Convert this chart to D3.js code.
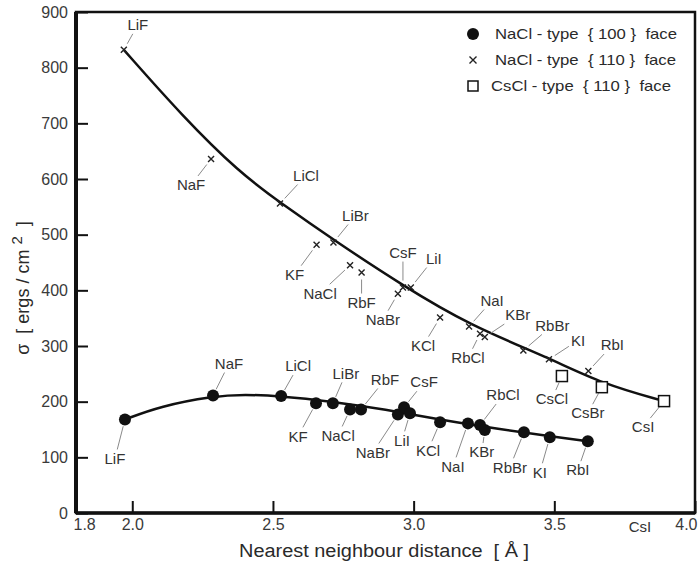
<!DOCTYPE html>
<html>
<head>
<meta charset="utf-8">
<script src="https://cdn.jsdelivr.net/npm/d3@7"></script>
<style>
  body { margin: 0; background: #fff; }
  text { font-family: "Liberation Sans", Arial, sans-serif; }
</style>
</head>
<body>
<div id="chart"></div>
<script>
var width = 700, height = 567;

// NaCl-type {110} face (crosses)
var names110 = ["LiF","NaF","LiCl","KF","LiBr","NaCl","RbF","NaBr","CsF","LiI","KCl","NaI","RbCl","KBr","RbBr","KI","RbI"];
var dist110  = [1.97,2.28,2.525,2.655,2.715,2.774,2.815,2.944,2.962,2.99,3.094,3.197,3.236,3.253,3.39,3.481,3.621];
var sigma110 = [832,636,556,482,486,445,432,394,405,405,351,335,322,316,292,276,255];

// NaCl-type {100} face (filled circles)
var names100 = ["LiF","NaF","LiCl","KF","LiBr","NaCl","RbF","NaBr","CsF","LiI","KCl","NaI","RbCl","KBr","RbBr","KI","RbI"];
var dist100  = [1.974,2.287,2.529,2.653,2.713,2.774,2.813,2.944,2.966,2.987,3.094,3.193,3.236,3.253,3.392,3.484,3.619];
var sigma100 = [168,211,210,197,197,186,186,177,190,179,163,161,158,149,145,136,129];

// CsCl-type {110} face (open squares)
var namesCs = ["CsCl","CsBr","CsI"];
var distCs  = [3.527,3.669,3.89];
var sigmaCs = [246,226,201];

// smooth curves as drawn in the figure
var upperCurveX = [1.97,2.18,2.38,2.53,2.72,2.96,3.20,3.48,3.67,3.89];
var upperCurveY = [832,712,612,556,489,409,337,279,232,201];
var lowerCurveX = [1.974,2.1,2.287,2.4,2.529,2.7,2.9,3.1,3.3,3.5,3.619];
var lowerCurveY = [168,192,210,213,210,201,186,167,151,137,129];

var xTicks = [1.8,2.0,2.5,3.0,3.5,4.0];
var yTicks = [0,100,200,300,400,500,600,700,800,900];

var legendLabels = ["NaCl - type  { 100 }  face","NaCl - type  { 110 }  face","CsCl - type  { 110 }  face"];

// label offsets (px) from each marker
var off110 = [[14,-25],[-20,26],[26,-28],[-22,30],[22,-27],[-30,28],[0,30],[-15,26],[0,-35],[23,-29],[-17,28],[23,-26],[-12,24],[33,-22],[29,-25],[29,-19],[24,-26]];
var off100 = [[-10,39],[16,-32],[17,-30],[-18,33],[13,-30],[-12,26],[24,-30],[-25,38],[20,-25],[-8,27],[-12,28],[-15,43],[23,-30],[-3,22],[-14,35],[-10,35],[-10,29]];
var offCs  = [[-10,23],[-14,26],[-21,26]];

var x = d3.scaleLinear().domain([1.8, 4.0]).range([76, 695]);
var y = d3.scaleLinear().domain([0, 900]).range([513, 12]);

var svg = d3.select("#chart")
            .append("svg")
            .attr("width", width)
            .attr("height", height)
            .attr("viewBox", [0, 0, width, height]);

// axes (ticks pointing inward)
var yAxis = d3.axisLeft(y).tickValues(yTicks).tickSize(-12).tickPadding(8).tickFormat(d3.format("d"));
var xAxis = d3.axisBottom(x).tickValues(xTicks).tickSize(-12).tickPadding(6).tickFormat(d3.format(".1f"));

var gy = svg.append("g").attr("transform", "translate(" + x.range()[0] + ",0)").call(yAxis);
var gx = svg.append("g").attr("transform", "translate(0," + y.range()[0] + ")").call(xAxis);
[gx, gy].forEach(function(g){
    g.select(".domain").remove();
    g.selectAll(".tick line").attr("stroke", "#111").attr("stroke-width", 2);
    g.selectAll(".tick text").attr("fill", "#3a3a3a").attr("font-size", 16);
});
gx.selectAll(".tick text")
  .attr("text-anchor", function(d){ return d === 1.8 ? "start" : (d === 4.0 ? "end" : "middle"); })
  .attr("dx", function(d){ return d === 1.8 ? -3 : (d === 4.0 ? 2 : 0); });

// frame
svg.append("rect")
   .attr("x", x.range()[0]).attr("y", y.range()[1])
   .attr("width", x.range()[1] - x.range()[0])
   .attr("height", y.range()[0] - y.range()[1])
   .attr("fill", "none").attr("stroke", "#111").attr("stroke-width", 2.5);
svg.append("line")
   .attr("x1", x.range()[0]).attr("x2", x.range()[0])
   .attr("y1", y.range()[1]).attr("y2", y.range()[0])
   .attr("stroke", "#111").attr("stroke-width", 4);
svg.append("line")
   .attr("x1", x.range()[0]).attr("x2", x.range()[1])
   .attr("y1", y.range()[0]).attr("y2", y.range()[0])
   .attr("stroke", "#111").attr("stroke-width", 3.5);

// axis titles
svg.append("text")
   .attr("x", 384).attr("y", 557)
   .attr("text-anchor", "middle").attr("font-size", 18).attr("fill", "#2a2a2a")
   .attr("xml:space", "preserve")
   .attr("textLength", 290).attr("lengthAdjust", "spacingAndGlyphs")
   .text("Nearest neighbour distance  [ Å ]");

var yl = svg.append("text")
   .attr("transform", "translate(29,288) rotate(-90)")
   .attr("text-anchor", "middle").attr("font-size", 18).attr("fill", "#2a2a2a")
   .attr("xml:space", "preserve");
yl.append("tspan").text("σ  [ ergs / cm ");
yl.append("tspan").attr("dy", -7).attr("font-size", 15).text("2");
yl.append("tspan").attr("dy", 7).text("  ]");

// curves
var line = d3.line().x(function(d){ return x(d[0]); }).y(function(d){ return y(d[1]); }).curve(d3.curveBasis);
svg.append("path")
   .attr("d", line(d3.zip(upperCurveX, upperCurveY)))
   .attr("fill", "none").attr("stroke", "#111").attr("stroke-width", 2.5);
svg.append("path")
   .attr("d", line(d3.zip(lowerCurveX, lowerCurveY)))
   .attr("fill", "none").attr("stroke", "#111").attr("stroke-width", 2.5);

// labels with leader lines
function addLabels(names, xs, ys, offs) {
    names.forEach(function(n, i){
        var mx = x(xs[i]), my = y(ys[i]);
        var cx = mx + offs[i][0], cy = my + offs[i][1];
        var t = svg.append("text")
           .attr("x", cx).attr("y", cy).attr("dy", "0.35em")
           .attr("text-anchor", "middle").attr("font-size", 15).attr("fill", "#333")
           .text(n);
        var hw = t.node().getComputedTextLength() / 2 + 2, hh = 9;
        var ux = mx - cx, uy = my - cy;
        var s = Math.min(ux === 0 ? Infinity : hw / Math.abs(ux), uy === 0 ? Infinity : hh / Math.abs(uy));
        var ex = cx + ux * s, ey = cy + uy * s;
        var L = Math.hypot(ux, uy);
        var sx = mx - ux / L * 7, sy = my - uy / L * 7;
        if (Math.hypot(ex - mx, ey - my) > 8) {
            svg.append("line")
               .attr("x1", sx).attr("y1", sy).attr("x2", ex).attr("y2", ey)
               .attr("stroke", "#8a8a8a").attr("stroke-width", 1);
        }
    });
}
addLabels(names110, dist110, sigma110, off110);
addLabels(names100, dist100, sigma100, off100);
addLabels(namesCs, distCs, sigmaCs, offCs);

// stray CsI label below the axis, as in the figure
svg.append("text").attr("x", 640).attr("y", 532)
   .attr("text-anchor", "middle").attr("font-size", 15).attr("fill", "#333").text("CsI");

// markers
function cross(g, cx, cy, r) {
    g.append("path")
     .attr("d", "M" + (cx - r) + "," + (cy - r) + "L" + (cx + r) + "," + (cy + r) +
                "M" + (cx - r) + "," + (cy + r) + "L" + (cx + r) + "," + (cy - r))
     .attr("stroke", "#222").attr("stroke-width", 1.4).attr("fill", "none");
}
var gm = svg.append("g");
dist110.forEach(function(d, i){ cross(gm, x(d), y(sigma110[i]), 3); });

gm.selectAll("circle.p100")
  .data(d3.zip(dist100, sigma100))
  .enter().append("circle")
  .attr("cx", function(d){ return x(d[0]); })
  .attr("cy", function(d){ return y(d[1]); })
  .attr("r", 6).attr("fill", "#111");

gm.selectAll("rect.pcs")
  .data(d3.zip(distCs, sigmaCs))
  .enter().append("rect")
  .attr("x", function(d){ return x(d[0]) - 5.5; })
  .attr("y", function(d){ return y(d[1]) - 5.5; })
  .attr("width", 11).attr("height", 11)
  .attr("fill", "#fff").attr("stroke", "#111").attr("stroke-width", 1.5);

// legend
var lg = svg.append("g");
var rowsY = [34, 60, 86], symX = 473, textX = 495, textW = [182, 181, 180];
lg.append("circle").attr("cx", symX).attr("cy", rowsY[0]).attr("r", 6).attr("fill", "#111");
cross(lg, symX, rowsY[1], 3.5);
lg.append("rect").attr("x", symX - 5).attr("y", rowsY[2] - 5).attr("width", 10).attr("height", 10)
  .attr("fill", "#fff").attr("stroke", "#111").attr("stroke-width", 1.5);
legendLabels.forEach(function(l, i){
    lg.append("text").attr("x", textX - (i === 2 ? 4 : 0)).attr("y", rowsY[i]).attr("dy", "0.35em")
      .attr("font-size", 15).attr("fill", "#2a2a2a").attr("xml:space", "preserve")
      .attr("textLength", textW[i]).attr("lengthAdjust", "spacingAndGlyphs")
      .text(l);
});
</script>
</body>
</html>
